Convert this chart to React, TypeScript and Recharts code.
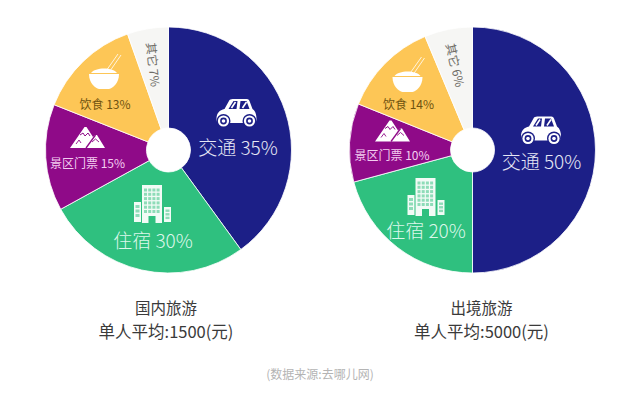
import { Pie, PieChart, Cell } from "recharts"

const categories = ["交通", "住宿", "景区门票", "饮食", "其它"]
const colors = ["#1c1f87", "#2fc07f", "#8f0a88", "#fdc656", "#f6f6f4"]
const domesticShares = [40, 27, 14, 13.6, 5.4]
const outboundShares = [50, 20.8, 10.3, 12.6, 6.3]
const domesticLabels = ["35%", "30%", "15%", "13%", "7%"]
const outboundLabels = ["50%", "20%", "10%", "14%", "6%"]
const titles = ["国内旅游", "出境旅游"]
const averages = ["单人平均:1500(元)", "单人平均:5000(元)"]
const source = "(数据来源:去哪儿网)"

const FONT = '"Noto Sans CJK SC", "Noto Sans", sans-serif'
const textColors = ["#e6e7f5", "#dcf7ea", "#f3cdf0", "#6f5210", "#6f6d67"]
const fontSizes = [19, 19, 12, 12, 12]
const fontWeights = [300, 300, 400, 400, 400]

// where the text and icon of each slice sit: [textX, textY, iconX, iconY]
const domesticSpots = [
  [238, 146.5, 236.5, 113],
  [153, 239, 152, 204],
  [87.5, 162, 87, 138],
  [105, 103, 104, 77],
  [154, 64.5, 0, 0],
]
const outboundSpots = [
  [541.5, 160.5, 541, 130.5],
  [426, 229.5, 425.5, 197],
  [392, 154, 392, 131.5],
  [408.5, 103, 407.5, 80],
  [456, 65, 0, 0],
]

const toRows = (shares: number[]) => categories.map((name, i) => ({ name, value: shares[i] }))

function Car({ x, y }: { x: number; y: number }) {
  return (
    <g transform={`translate(${x},${y})`} fill="#fff">
      <path d="M-20 6 C-20 0 -17 -3 -12 -4 L-7 -13 C-6 -14 -4 -14 -3 -14 L9 -14 C11 -14 12 -14 13 -12 L16 -4 C19 -2 20 2 20 6 C20 9 19 10 17 10 L-17 10 C-19 10 -20 9 -20 6 Z" />
      <path d="M-8 -4 L-3 -12 L1 -12 L0 -4 Z M3 -4 L4 -12 L10 -12 L13 -4 Z" fill="#1c1f87" />
      <path d="M-5 -5 L-1 -11 M6 -5 L10 -11" stroke="#fff" strokeWidth={1.6} />
      {[-13, 13].map((dx) => (
        <g key={dx}>
          <circle cx={dx} cy={8} r={7} fill="#1c1f87" />
          <circle cx={dx} cy={8} r={5.6} fill="#fff" />
          <circle cx={dx} cy={8} r={3.4} fill="#1c1f87" />
          <circle cx={dx} cy={8} r={1.8} fill="#fff" />
        </g>
      ))}
    </g>
  )
}

function Bowl({ x, y }: { x: number; y: number }) {
  return (
    <g transform={`translate(${x},${y})`}>
      <path d="M2 -6 L14 -23 M6 -6 L17 -22" stroke="#fff" strokeWidth={0.8} fill="none" />
      <path d="M-13 -4 C-9 -10 9 -10 13 -4 Z" fill="#fff" />
      <path d="M-15 -3 L15 -3 C15 6 9 11 5 12 L-5 12 C-9 11 -15 6 -15 -3 Z" fill="#fff" />
    </g>
  )
}

function Mountains({ x, y }: { x: number; y: number }) {
  return (
    <g transform={`translate(${x},${y})`}>
      <path d="M-17 10 L-2.5 -11 L-0.5 -11 L6 -1 L8 -3 L10 -3 L18 10 Z" fill="#fff" />
      <path d="M-1 10 L8.5 -3" stroke="#8f0a88" strokeWidth={1.3} fill="none" />
      <path d="M-7 -3 L-4 -5 L-2 -2 L1 -5 L3 -2" stroke="#8f0a88" strokeWidth={1} fill="none" />
      <path d="M5 4 L8.5 1 L12 4" stroke="#8f0a88" strokeWidth={0.9} fill="none" />
      <path d="M-11 6 L-8 2 L-6 5" stroke="#8f0a88" strokeWidth={0.9} fill="none" />
    </g>
  )
}

function Building({ x, y }: { x: number; y: number }) {
  const fill = "#8edcb8"
  const cols = [0, 1, 2, 3]
  const rows = [0, 1, 2, 3, 4, 5]
  const wingRows = [0, 1, 2]
  return (
    <g transform={`translate(${x},${y})`}>
      <rect x={-10} y={-19} width={20} height={38} fill="#f2fbf6" />
      <rect x={-18} y={-2} width={7} height={20} fill="#f2fbf6" />
      <rect x={12} y={3} width={7} height={15} fill="#f2fbf6" />
      {rows.map((r) =>
        cols.map((c) => (
          <rect key={`${r}-${c}`} x={-8 + c * 4.2} y={-15.5 + r * 4.3} width={3} height={3} fill={fill} />
        )),
      )}
      {wingRows.map((r) => (
        <g key={r}>
          <rect x={-16.5} y={1 + r * 4.5} width={4} height={3} fill={fill} />
          <rect x={13.5} y={5.5 + r * 3.6} width={4} height={2.4} fill={fill} />
        </g>
      ))}
      <rect x={-3.5} y={12} width={7} height={7} fill={colors[1]} />
    </g>
  )
}

const icons = [Car, Building, Mountains, Bowl]

// Pie draws its labels above the wedges, so text and icons go through it
const sliceLabel = (spots: number[][], values: string[], rotate: number) => (props: any) => {
  const i = props.index
  const [x, y, iconX, iconY] = spots[i]
  const Icon = icons[i]
  return (
    <g key={i}>
      {Icon && <Icon x={iconX} y={iconY} />}
      <text
        x={x}
        y={y}
        textAnchor="middle"
        dominantBaseline="central"
        fontSize={fontSizes[i]}
        fontFamily={FONT}
        fontWeight={fontWeights[i]}
        fill={textColors[i]}
        transform={i === 4 ? `rotate(${rotate} ${x} ${y})` : undefined}
      >
        {categories[i]} {values[i]}
      </text>
    </g>
  )
}

function Caption({ x, y, size, color, children }: any) {
  return (
    <text x={x} y={y} textAnchor="middle" dominantBaseline="central" fontSize={size} fontFamily={FONT} fill={color}>
      {children}
    </text>
  )
}

export default function App() {
  return (
    <div style={{ position: "absolute", left: 0, top: 0, width: 640, height: 402, background: "#fff" }}>
      <PieChart width={640} height={402} margin={{ top: 0, right: 0, bottom: 0, left: 0 }}>
        <Pie
          data={toRows(domesticShares)}
          dataKey="value"
          cx={168.5}
          cy={150}
          innerRadius={22}
          outerRadius={123}
          startAngle={90}
          endAngle={-270}
          stroke="#fff"
          strokeWidth={0.8}
          label={sliceLabel(domesticSpots, domesticLabels, 84)}
          labelLine={false}
          isAnimationActive={false}
        >
          {categories.map((name, i) => (
            <Cell key={name} fill={colors[i]} />
          ))}
        </Pie>
        <Pie
          data={toRows(outboundShares)}
          dataKey="value"
          cx={472.5}
          cy={150}
          innerRadius={22}
          outerRadius={123}
          startAngle={90}
          endAngle={-270}
          stroke="#fff"
          strokeWidth={0.8}
          label={sliceLabel(outboundSpots, outboundLabels, 77)}
          labelLine={false}
          isAnimationActive={false}
        >
          {categories.map((name, i) => (
            <Cell key={name} fill={colors[i]} />
          ))}
        </Pie>

        <Caption x={166} y={307} size={15.5} color="#3a3a3a">{titles[0]}</Caption>
        <Caption x={166} y={331} size={16.5} color="#3a3a3a">{averages[0]}</Caption>
        <Caption x={481.5} y={307} size={15.5} color="#3a3a3a">{titles[1]}</Caption>
        <Caption x={481.5} y={331} size={16.5} color="#3a3a3a">{averages[1]}</Caption>
        <Caption x={320} y={373.5} size={12} color="#b4b4b4">{source}</Caption>
      </PieChart>
    </div>
  )
}
